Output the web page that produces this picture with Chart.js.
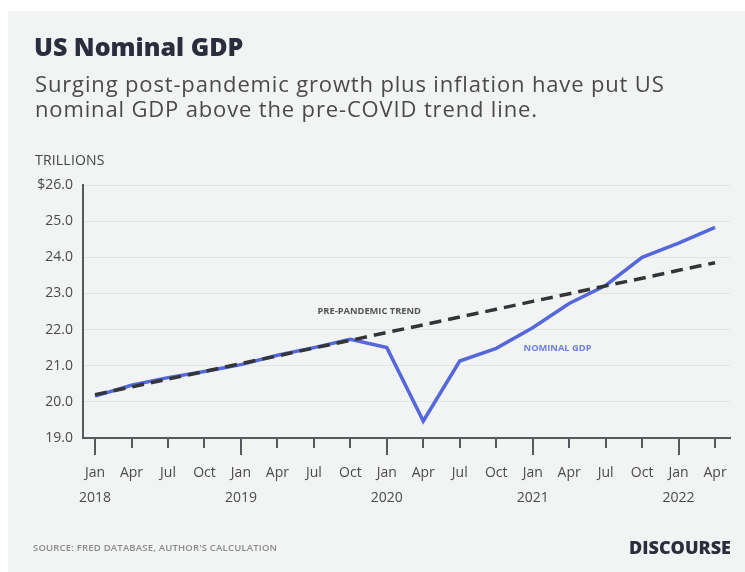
<!DOCTYPE html>
<html>
<head>
<meta charset="utf-8">
<script src="https://cdn.jsdelivr.net/npm/chart.js@4.4.1/dist/chart.umd.min.js"></script>
<style>
  html, body { margin: 0; padding: 0; background: #ffffff; }
  body { width: 745px; height: 572px; position: relative; overflow: hidden; font-family: "Open Sans", sans-serif; }
  #panel { position: absolute; left: 8px; top: 11px; right: 0; bottom: 0; background: #f2f3f3; }
  #chart { position: absolute; left: 0; top: 0; }
  .t { position: absolute; white-space: nowrap; }
  #title { left: 34px; top: 29px; font-size: 25px; font-weight: 800; color: #2a2d3b; letter-spacing: 0px; }
  #sub { left: 35px; top: 71px; font-size: 22px; line-height: 25px; letter-spacing: 0.85px; color: #4a4a4a; }
  #unit { left: 35px; top: 150px; font-size: 14px; letter-spacing: 0.2px; color: #444; }
  #source { left: 33px; top: 541px; font-size: 9.5px; font-weight: 600; letter-spacing: 0.2px; color: #8a8a8a; }
  #brand { right: 14px; top: 535px; font-size: 18px; font-weight: 800; color: #2a2d3b; }
</style>
</head>
<body>
<div id="panel"></div>
<canvas id="chart" width="745" height="572"></canvas>
<div class="t" id="title">US Nominal GDP</div>
<div class="t" id="sub">Surging post-pandemic growth plus inflation have put US<br>nominal GDP above the pre-COVID trend line.</div>
<div class="t" id="unit">TRILLIONS</div>
<div class="t" id="source">SOURCE: FRED DATABASE, AUTHOR'S CALCULATION</div>
<div class="t" id="brand">DISCOURSE</div>
<script>
// Quarterly periods, Jan 2018 – Apr 2022
const months = ["Jan","Apr","Jul","Oct","Jan","Apr","Jul","Oct","Jan","Apr","Jul","Oct","Jan","Apr","Jul","Oct","Jan","Apr"];
const years  = ["2018","","","","2019","","","","2020","","","","2021","","","","2022",""];

// Nominal GDP, trillions of dollars
const nominalGdp = [20.16, 20.46, 20.67, 20.84, 21.03, 21.29, 21.50, 21.73, 21.50, 19.47, 21.13, 21.48, 22.05, 22.72, 23.22, 24.00, 24.39, 24.83];

// Pre-pandemic trend line, trillions of dollars
const prePandemicTrend = [20.20, 20.41, 20.63, 20.84, 21.06, 21.27, 21.49, 21.70, 21.92, 22.13, 22.35, 22.56, 22.78, 22.99, 23.21, 23.42, 23.64, 23.85];

// Y-axis tick values
const yTicks = [19, 20, 21, 22, 23, 24, 25, 26];

const toPoints = arr => arr.map((v, i) => ({ x: i, y: v }));

const AXIS = '#555a5e';
const BLUE = '#5468dc';
const FONT = '"Open Sans", sans-serif';

// Quarter tick marks below the x axis, longer at each January
const tickMarks = {
  id: 'tickMarks',
  afterDraw(chart) {
    const { ctx, scales: { x }, chartArea } = chart;
    ctx.save();
    ctx.strokeStyle = AXIS;
    ctx.lineWidth = 2;
    months.forEach((m, i) => {
      const px = Math.round(x.getPixelForValue(i));
      const len = years[i] ? 17 : 10;
      ctx.beginPath();
      ctx.moveTo(px, chartArea.bottom);
      ctx.lineTo(px, chartArea.bottom + len);
      ctx.stroke();
    });
    ctx.restore();
  }
};

// Inline series labels
const seriesLabels = {
  id: 'seriesLabels',
  afterDatasetsDraw(chart) {
    const { ctx, scales: { x, y } } = chart;
    ctx.save();
    ctx.textBaseline = 'middle';
    ctx.textAlign = 'left';
    ctx.font = `700 9.3px ${FONT}`;
    ctx.fillStyle = '#555';
    ctx.fillText('PRE-PANDEMIC TREND', x.getPixelForValue(6.1), y.getPixelForValue(22.5));
    ctx.fillStyle = '#6f80e4';
    ctx.fillText('NOMINAL GDP', x.getPixelForValue(11.75), y.getPixelForValue(21.48));
    ctx.restore();
  }
};

new Chart(document.getElementById('chart'), {
  type: 'line',
  data: {
    datasets: [
      {
        label: 'Pre-pandemic trend',
        data: toPoints(prePandemicTrend),
        borderColor: '#333538',
        borderWidth: 3.5,
        borderDash: [12, 7],
        pointRadius: 0,
        fill: false,
        order: 0
      },
      {
        label: 'Nominal GDP',
        data: toPoints(nominalGdp),
        borderColor: BLUE,
        borderWidth: 3.5,
        borderJoinStyle: 'miter',
        pointRadius: 0,
        fill: false,
        order: 1
      }
    ]
  },
  options: {
    responsive: false,
    animation: false,
    devicePixelRatio: 1,
    layout: { padding: { top: 185, right: 15, left: 0, bottom: 0 } },
    plugins: { legend: { display: false }, tooltip: { enabled: false } },
    scales: {
      x: {
        type: 'linear',
        min: -0.33,
        max: 17.41,
        afterBuildTicks: s => { s.ticks = months.map((m, i) => ({ value: i })); },
        afterFit: s => { s.height = 572 - 438; s.paddingLeft = 0; s.paddingRight = 0; },
        grid: { display: false },
        border: { display: true, color: AXIS, width: 2 },
        ticks: {
          autoSkip: false,
          maxRotation: 0,
          padding: 14,
          color: '#4a4a4a',
          font: { family: FONT, size: 14, lineHeight: 1.8 },
          callback: v => years[v] ? [months[v], years[v]] : months[v]
        }
      },
      y: {
        min: 19,
        max: 26,
        afterBuildTicks: s => { s.ticks = yTicks.map(v => ({ value: v })); },
        afterFit: s => { s.width = 83; s.paddingTop = 0; s.paddingBottom = 0; },
        grid: { color: '#e3e4e4', lineWidth: 1, drawTicks: false },
        border: { display: true, color: AXIS, width: 2 },
        ticks: {
          padding: 10,
          color: '#4a4a4a',
          font: { family: FONT, size: 14 },
          callback: v => (v === 26 ? '$' : '') + v.toFixed(1)
        }
      }
    }
  },
  plugins: [tickMarks, seriesLabels]
});
</script>
</body>
</html>
